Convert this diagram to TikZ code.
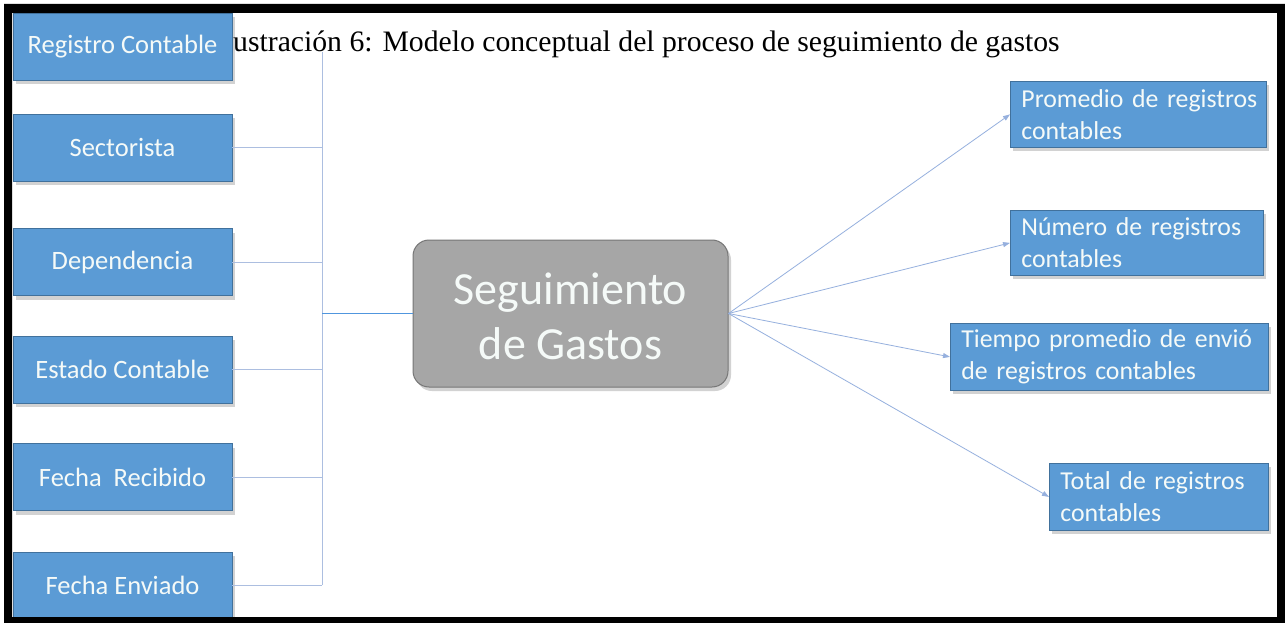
\documentclass[tikz,border=0pt]{standalone}
\usepackage{fontspec}
\setmainfont{Liberation Serif}
\newfontfamily\carl{Carlito}
\usetikzlibrary{shadows,arrows.meta}
\definecolor{boxblue}{RGB}{91,155,213}
\definecolor{boxedge}{RGB}{65,113,156}
\definecolor{cgray}{RGB}{166,166,166}
\definecolor{cedge}{RGB}{118,118,118}
\definecolor{lineblue}{RGB}{172,190,224}
\definecolor{arrowblue}{RGB}{150,176,222}
\definecolor{linkblue}{RGB}{80,150,222}
\definecolor{boxtext}{RGB}{245,250,248}
\begin{document}
\begin{tikzpicture}[x=1pt,y=-1pt,
  shad/.style={drop shadow={shadow xshift=3pt,shadow yshift=-4pt,opacity=0.25,fill=black!70}},
  lbox/.style={draw=boxedge, line width=0.8pt, fill=boxblue, text=boxtext,
    font=\carl\fontsize{26.5}{32}\selectfont, minimum width=219pt, minimum height=67pt,
    inner sep=0pt, shad},
  rbox/.style={draw=boxedge, line width=0.8pt, fill=boxblue, text=boxtext,
    font=\carl\fontsize{25.8}{32}\selectfont, anchor=north west,
    execute at begin node={\raggedright},
    inner xsep=11pt, inner ysep=0pt, shad},
  cbox/.style={draw=cedge, line width=1pt, fill=cgray, rounded corners=16pt,
    minimum width=315pt, minimum height=147pt, inner sep=0pt, shad},
  ctext/.style={text=boxtext, font=\carl\fontsize{46}{55}\selectfont,
    inner sep=0pt, align=center},
  busline/.style={draw=lineblue, line width=0.8pt},
  linkline/.style={draw=linkblue, line width=1.5pt},
  arr/.style={draw=arrowblue, line width=0.8pt, -{Triangle[length=7pt,width=5pt]}}
]
\useasboundingbox (0,0) rectangle (1285,623);
\fill[white] (0,0) rectangle (1285,623);

% title
\node[anchor=base west, inner sep=0pt, font=\fontsize{29.7}{34}\selectfont] (title) at (233,52)
  {ustración 6: Modelo conceptual del proceso de seguimiento de gastos};

% bus coordinates
\coordinate (bustop) at (322,52);
\coordinate (busbot) at (322,585);

% left boxes
\node[lbox] (reg) at (122.5,46.5) {Registro Contable};
\node[lbox] (sec) at (122.5,147.5) {Sectorista};
\node[lbox] (dep) at (122.5,262) {Dependencia};
\node[lbox] (est) at (122.5,369.5) {Estado Contable};
\node[lbox] (rec) at (122.5,477) {Fecha\ \ Recibido};
\node[lbox] (env) at (122.5,585.5) {Fecha Enviado};

% central
\node[cbox] (cen) at (570.5,313.5) {};
\node[ctext] (centxt) at ([yshift=-3pt]cen.center) {Seguimiento\\de Gastos};

% right boxes
\node[rbox, minimum width=256pt, minimum height=66pt, text width=234pt] (prom) at (1010,81)
  {\mbox{Promedio de registros}\\\mbox{contables}};
\node[rbox, minimum width=253pt, minimum height=65pt, text width=231pt] (num) at (1010,210)
  {\mbox{Número de registros}\\\mbox{contables}};
\node[rbox, minimum width=318pt, minimum height=67pt, text width=296pt] (tie) at (950,323)
  {\mbox{Tiempo promedio de envió}\\\mbox{de registros contables}};
\node[rbox, minimum width=219pt, minimum height=67pt, text width=197pt] (tot) at (1049,463)
  {\mbox{Total de registros}\\\mbox{contables}};

% connectors
\draw[busline] (bustop) -- (busbot);
\draw[busline] (sec.east) -- (sec.east -| bustop);
\draw[busline] (dep.east) -- (dep.east -| bustop);
\draw[busline] (est.east) -- (est.east -| bustop);
\draw[busline] (rec.east) -- (rec.east -| bustop);
\draw[busline] (env.east) -- (env.east -| bustop);
\draw[linkline] (cen.west -| bustop) -- (cen.west);

\draw[arr] (cen.east) -- (prom.west);
\draw[arr] (cen.east) -- (num.west);
\draw[arr] (cen.east) -- (tie.west);
\draw[arr] (cen.east) -- (tot.west);

% frame
\fill[black, even odd rule] (4,4) rectangle (1285,623) (12,13) rectangle (1277,617);
\end{tikzpicture}
\end{document}
